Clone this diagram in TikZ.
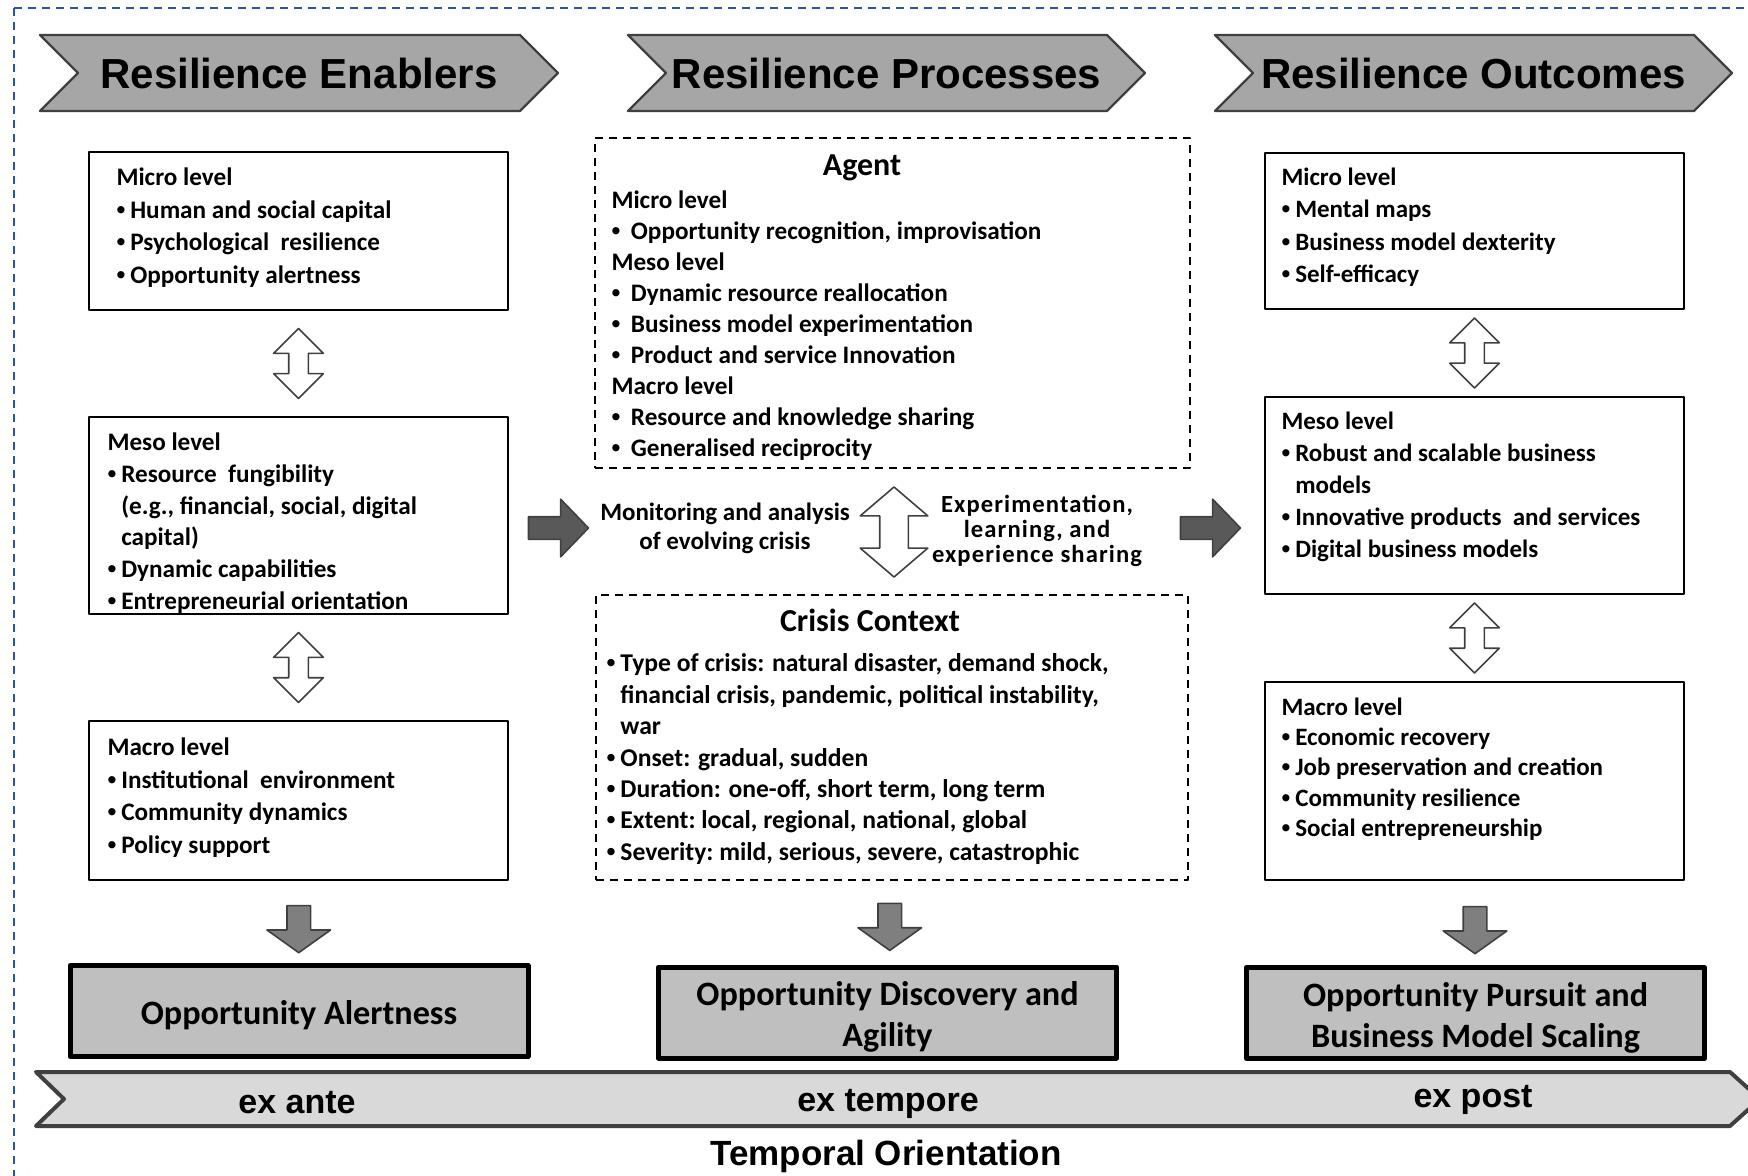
\documentclass[tikz,border=0pt]{standalone}
\usepackage{fontspec}
\setmainfont{Carlito}
\newfontfamily\arialf{Liberation Sans}
\usetikzlibrary{positioning,calc,shapes.arrows}
\definecolor{hdrgray}{HTML}{A6A6A6}
\definecolor{linegray}{HTML}{404040}
\definecolor{outgray}{HTML}{BFBFBF}
\definecolor{tlgray}{HTML}{D9D9D9}
\definecolor{arrgray}{HTML}{595959}
\definecolor{dngray}{HTML}{7F7F7F}
\definecolor{frameblue}{HTML}{2F5597}
\newcommand\bul{{\arialf•}\hspace{2.5pt}}
\newcommand\abul{{\arialf•}\hspace{5.3pt}}
\begin{document}
\begin{tikzpicture}[x=.5pt,y=-.5pt,line join=round,
  hdr/.style={fill=hdrgray,draw=linegray,line width=1.2pt},
  hdrtxt/.style={font=\arialf\bfseries\fontsize{21}{25}\selectfont},
  lvlbox/.style={draw,line width=.9pt,minimum width=209.5pt,inner sep=0},
  dashbox/.style={draw,dash pattern=on 4pt off 3pt,line width=.9pt,inner sep=0},
  txt/.style={align=left,inner sep=0,font=\bfseries\fontsize{12.6}{16.3}\selectfont},
  headtxt/.style={inner sep=0,font=\bfseries\fontsize{16}{19}\selectfont},
  midtxt/.style={align=center,inner sep=0,font=\bfseries\fontsize{12.5}{14.5}\selectfont},
  outbox/.style={draw,line width=2.5pt,fill=outgray,minimum width=229pt,minimum height=45.5pt},
  outtxt/.style={align=center,inner sep=0,font=\bfseries\fontsize{17.1}{20.6}\selectfont},
  tltxt/.style={font=\arialf\bfseries\fontsize{17}{20}\selectfont},
  dblarr/.style={double arrow,draw=linegray,fill=white,line width=.8pt,rotate=90,minimum height=35pt,inner sep=4.5pt,double arrow head extend=7.5pt,double arrow tip angle=90},
  dnarr/.style={single arrow,draw=linegray,fill=dngray,line width=.8pt,rotate=-90,minimum height=23.5pt,inner sep=5.5pt,single arrow head extend=10pt,single arrow tip angle=109},
  rtarr/.style={single arrow,draw=linegray,fill=arrgray,line width=.8pt,minimum height=30pt,inner sep=5.25pt,single arrow head extend=8.75pt,single arrow tip angle=92}]
\useasboundingbox (0,0) rectangle (1748,1176);
\draw[frameblue,line width=.6pt,dash pattern=on 4pt off 3pt] (14,8) rectangle (1800,1250);

% headers
\foreach \x/\w/\t in {40/480/Enablers,628/479/Processes,1215/479/Outcomes}{
  \draw[hdr] (\x,35) -- ++(\w,0) -- ++(38,38) -- ++(-38,38) -- ++(-\w,0) -- ++(38,-38) -- cycle;
  \node[hdrtxt] (h-\t) at (\x+\w/2+19,73) {Resilience \t};
}

% enablers
\node[lvlbox,minimum height=79pt] (emicro) at (298.5,231) {};
\node[lvlbox,minimum height=98.5pt] (emeso) at (298.5,515.5) {};
\node[lvlbox,minimum height=79.5pt] (emacro) at (298.5,800.5) {};
\node[txt,below right=8.2pt and 14pt of emicro.north west] {Micro level\\\bul Human and social capital\\\bul Psychological\ \ resilience\\\bul Opportunity alertness};
\node[txt,below right=8.2pt and 9.5pt of emeso.north west,font=\bfseries\fontsize{12.6}{15.9}\selectfont] {Meso level\\\bul Resource\ \ fungibility\\\phantom{\bul}(e.g., financial, social, digital\\\phantom{\bul}capital)\\\bul Dynamic capabilities\\\bul Entrepreneurial\ orientation};
\node[txt,below right=8.7pt and 9.5pt of emacro.north west] {Macro level\\\bul Institutional\ \ environment\\\bul Community dynamics\\\bul Policy support};

% processes
\node[dashbox,minimum width=297.5pt,minimum height=165pt] (agent) at (892.5,303) {};
\node[dashbox,minimum width=296pt,minimum height=142.5pt] (crisis) at (892,737.5) {};
\node[headtxt] at (862,168) {Agent};
\node[txt,below right=26.7pt and 8.5pt of agent.north west,font=\bfseries\fontsize{12.6}{15.5}\selectfont] {Micro level\\\abul Opportunity recognition, improvisation\\Meso level\\\abul Dynamic resource reallocation\\\abul Business model experimentation\\\abul Product and service Innovation\\Macro level\\\abul Resource and knowledge sharing\\\abul Generalised reciprocity};
\node[headtxt] at (870,620) {Crisis Context};
\node[txt,below right=29.7pt and 5.5pt of crisis.north west,font=\bfseries\fontsize{12.8}{15.7}\selectfont] {\bul Type of crisis: natural disaster, demand shock,\\\phantom{\bul}financial crisis, pandemic, political instability,\\\phantom{\bul}war\\\bul Onset: gradual, sudden\\\bul Duration: one-off, short term, long term\\\bul Extent:\ local, regional,\ national,\ global\\\bul Severity:\ mild, serious,\ severe,\ catastrophic};
\node[midtxt] (monit) at (725,528) {Monitoring and analysis\\of evolving crisis};
\node[double arrow,draw=linegray,fill=white,line width=.8pt,rotate=90,minimum height=45pt,inner sep=6.75pt,double arrow head extend=9.75pt,double arrow tip angle=99] (learn) at (894,532) {};
\node[midtxt,font=\bfseries\fontsize{12.3}{12.5}\selectfont\addfontfeatures{LetterSpace=4.5}] (exper) at (1037,531) {Experimentation,\\learning, and\\experience sharing};

% outcomes
\node[lvlbox,minimum height=78pt] (omicro) at (1474.5,231) {};
\node[lvlbox,minimum height=98.5pt] (omeso) at (1474.5,495.5) {};
\node[lvlbox,minimum height=99pt] (omacro) at (1474.5,781) {};
\node[txt,below right=7.7pt and 8.5pt of omicro.north west,font=\bfseries\fontsize{12.5}{16.2}\selectfont] {Micro level\\\bul Mental maps\\\bul Business model dexterity\\\bul Self-efficacy};
\node[txt,below right=7.7pt and 8.5pt of omeso.north west,font=\bfseries\fontsize{12.5}{16}\selectfont] {Meso level\\\bul Robust and scalable business\\\phantom{\bul}models\\\bul Innovative products\ \ and services\\\bul Digital business models};
\node[txt,below right=8.2pt and 8.5pt of omacro.north west,font=\bfseries\fontsize{12.5}{15.1}\selectfont] {Macro level\\\bul Economic recovery\\\bul Job preservation and creation\\\bul Community resilience\\\bul Social entrepreneurship};

% arrows between levels
\node[dblarr] at ($(emicro.south)!.5!(emeso.north)$) {};
\node[dblarr] at ($(emeso.south)!.5!(emacro.north)$) {};
\node[dblarr] at ($(omicro.south)!.5!(omeso.north)$) {};
\node[dblarr] at ($(omeso.south)!.5!(omacro.north)$) {};
\node[rtarr] (go1) at (553,528) {};
\node[rtarr] (go2) at (1205,528) {};

% results
\node[outbox] (oalert) at (299,1011) {};
\node[outbox] (odisc) at (887.5,1012.5) {};
\node[outbox] (opurs) at (1475.5,1013) {};
\node[outtxt] at ([yshift=-2.3pt]oalert.center) {Opportunity Alertness};
\node[outtxt] at ([yshift=-2.3pt]odisc.center) {Opportunity Discovery and\\Agility};
\node[outtxt] at ([yshift=-2.3pt]opurs.center) {Opportunity Pursuit and\\Business Model Scaling};
\node[dnarr] at ($(emacro.south)!.5!(oalert.north)+(0,3)$) {};
\node[dnarr] at ($(crisis.south)!.5!(odisc.north)$) {};
\node[dnarr] at ($(omacro.south)!.5!(opurs.north)+(0,3)$) {};

% time line
\draw[fill=tlgray,draw=linegray,line width=2pt] (36,1072) -- (1730,1072) -- (1760,1099) -- (1730,1126) -- (36,1126) -- (64,1099) -- cycle;
\node[tltxt] (ante) at (297,1102.5) {ex ante};
\node[tltxt] (tempore) at (888,1104) {ex tempore};
\node[tltxt] (post) at (1473,1099.5) {ex post};
\node[tltxt,font=\arialf\bfseries\fontsize{17.5}{20}\selectfont] (orient) at (886,1156.5) {Temporal Orientation};
\end{tikzpicture}
\end{document}
